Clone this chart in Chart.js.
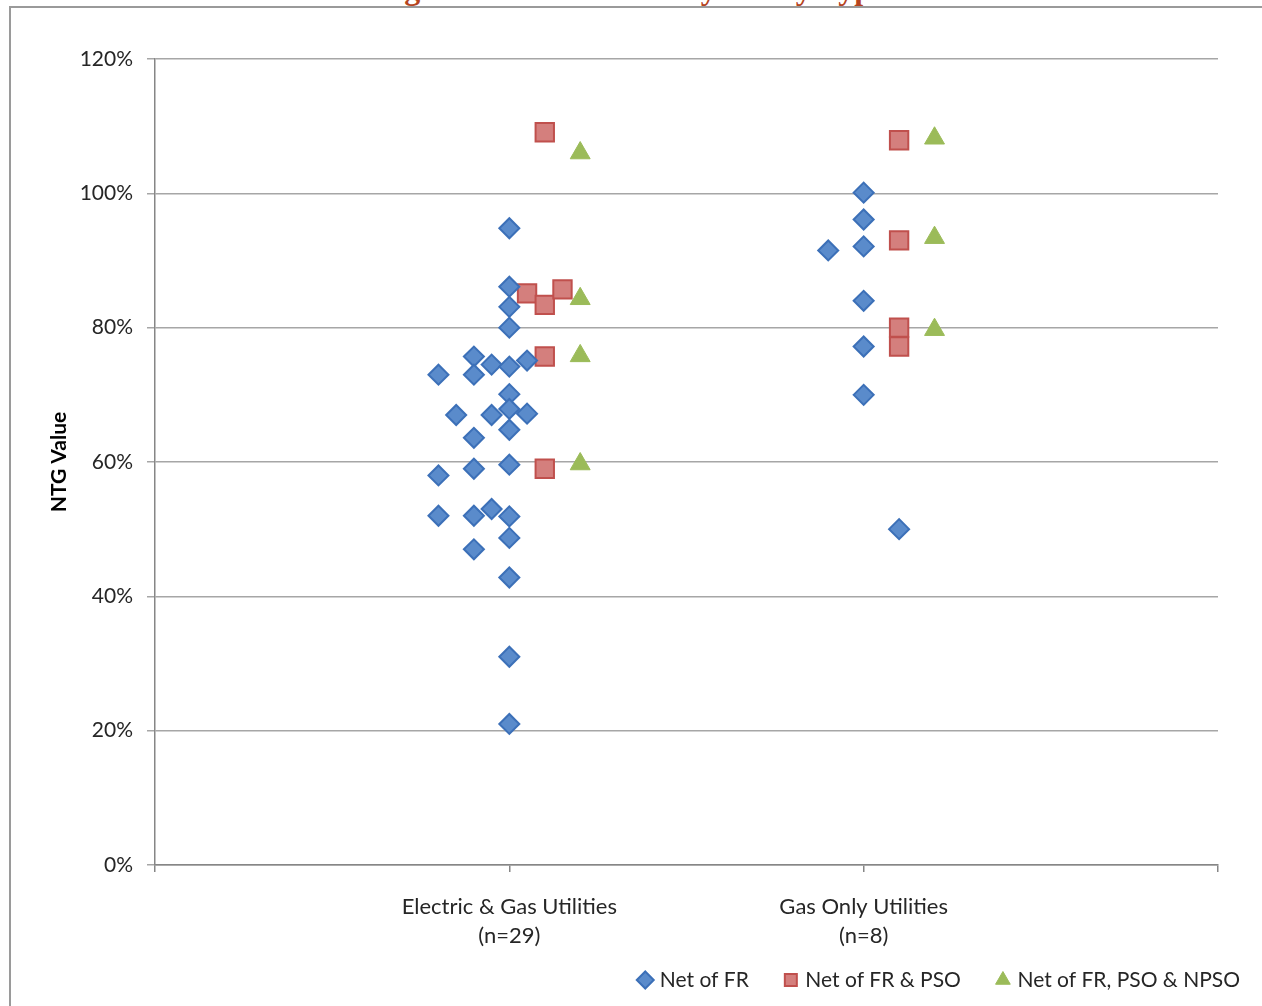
<!DOCTYPE html>
<html>
<head>
<meta charset="utf-8">
<script src="https://cdn.jsdelivr.net/npm/chart.js@4.4.1/dist/chart.umd.min.js"></script>
<style>
  html, body { margin: 0; padding: 0; background: #fff; overflow: hidden; }
  #frame { position: absolute; left: 9px; top: 6px; width: 1300px; height: 1100px;
           border-left: 2px solid #9a9a9a; border-top: 2px solid #9a9a9a; }
  #title { position: absolute; left: 0; top: -28px; width: 1262px; text-align: center;
           font: bold 32px/32px "Liberation Serif", serif; color: #b5441f; white-space: nowrap; }
  #wrap { position: absolute; left: 0; top: 0; width: 1262px; height: 1006px; }
</style>
</head>
<body>
<div id="title">Figure 8: NTG Values by Utility Type</div>
<div id="frame"></div>
<div id="wrap"><canvas id="chart"></canvas></div>
<script>
// categories on the x axis (1 and 2), tick labels on both axes
const categories = [['Electric & Gas Utilities', '(n=29)'], ['Gas Only Utilities', '(n=8)']];
const seriesNames = ['Net of FR', 'Net of FR & PSO', 'Net of FR, PSO & NPSO'];
const yTicks = [0, 20, 40, 60, 80, 100, 120];

// [offset from category centre, NTG value %]
const elecFR = [
  [-0.2, 73], [-0.2, 58], [-0.2, 52],
  [-0.15, 67],
  [-0.1, 75.7], [-0.1, 73], [-0.1, 63.6], [-0.1, 59], [-0.1, 52], [-0.1, 47],
  [-0.05, 74.5], [-0.05, 67], [-0.05, 53],
  [0, 94.8], [0, 86.1], [0, 83.1], [0, 80], [0, 74.2], [0, 70.1], [0, 67.9],
  [0, 64.8], [0, 59.6], [0, 51.9], [0, 48.7], [0, 42.8], [0, 31], [0, 21],
  [0.05, 75.1], [0.05, 67.2]
];
const elecPSO = [[0.05, 85.1], [0.1, 109.1], [0.1, 83.4], [0.1, 75.7], [0.1, 59], [0.15, 85.7]];
const elecNPSO = [[0.2, 106], [0.2, 84.3], [0.2, 75.8], [0.2, 59.7]];

const gasFR = [[-0.1, 91.5], [0, 100.1], [0, 96.1], [0, 92.1], [0, 84], [0, 77.2], [0, 70], [0.1, 50]];
const gasPSO = [[0.1, 107.9], [0.1, 93], [0.1, 80], [0.1, 77.2]];
const gasNPSO = [[0.2, 108.2], [0.2, 93.4], [0.2, 79.7]];

function toPoints(cat, list) {
  return list.map(function (p) { return { x: cat + p[0], y: p[1] }; });
}

// let the two-line category labels run below the x axis box
const noLabelClip = {
  id: 'noLabelClip',
  beforeDraw: function (chart) {
    chart.scales.x._computeLabelArea = function () { return undefined; };
  }
};

Chart.defaults.font.family = 'Lato';
Chart.defaults.color = '#262626';

let ctx = document.getElementById('chart').getContext('2d');
let myChart = new Chart(ctx, {
  type: 'scatter',
  data: {
    datasets: [{
      label: seriesNames[0],
      data: toPoints(1, elecFR).concat(toPoints(2, gasFR)),
      pointStyle: 'rectRot',
      pointRadius: 10,
      backgroundColor: '#5a8bcb',
      borderColor: '#3c70b8',
      borderWidth: 2
    }, {
      label: seriesNames[1],
      data: toPoints(1, elecPSO).concat(toPoints(2, gasPSO)),
      pointStyle: 'rect',
      pointRadius: 13,
      backgroundColor: '#d47f7d',
      borderColor: '#c0504d',
      borderWidth: 2
    }, {
      label: seriesNames[2],
      data: toPoints(1, elecNPSO).concat(toPoints(2, gasNPSO)),
      pointStyle: 'triangle',
      pointRadius: 11.5,
      backgroundColor: '#9bbb59',
      borderColor: '#9bbb59',
      borderWidth: 1
    }]
  },
  options: {
    responsive: true,
    maintainAspectRatio: false,
    animation: false,
    layout: { padding: { top: 59, left: 0, right: -16, bottom: 5.5 } },
    plugins: {
      tooltip: { enabled: false },
      legend: {
        position: 'bottom',
        align: 'end',
        labels: {
          usePointStyle: true,
          boxHeight: 12,
          boxWidth: 8,
          padding: 38,
          font: { size: 21 },
          color: '#262626'
        }
      }
    },
    scales: {
      x: {
        type: 'linear',
        min: 0,
        max: 3,
        afterFit: function (s) { s.height = 66.5; },
        afterBuildTicks: function (s) {
          s.ticks = [0, 1, 2, 3].map(function (v) { return { value: v }; });
        },
        ticks: {
          padding: 20,
          font: { size: 22, lineHeight: 1.32 },
          color: '#262626',
          maxRotation: 0,
          callback: function (v) { return categories[v - 1] || ''; }
        },
        grid: { drawOnChartArea: false, tickLength: 7, color: '#868686', lineWidth: 1.5 },
        border: { color: '#868686', width: 1.5 }
      },
      y: {
        min: 0,
        max: 120,
        afterFit: function (s) { s.width = 155; },
        afterBuildTicks: function (s) {
          s.ticks = yTicks.map(function (v) { return { value: v }; });
        },
        ticks: {
          padding: 14,
          font: { size: 21 },
          color: '#262626',
          callback: function (v) { return v + '%'; }
        },
        title: {
          display: true,
          text: 'NTG Value',
          font: { size: 21, weight: 'bold' },
          color: '#000',
          padding: { top: 47, bottom: 0 }
        },
        grid: { color: '#a6a6a6', lineWidth: 1.5, tickLength: 8 },
        border: { color: '#868686', width: 1.5 }
      },
      yRight: {
        position: 'right',
        min: 0,
        max: 1,
        afterFit: function (s) { s.width = 60; },
        ticks: { display: false },
        grid: { display: false },
        border: { display: false }
      }
    }
  },
  plugins: [noLabelClip]
});
</script>
</body>
</html>
